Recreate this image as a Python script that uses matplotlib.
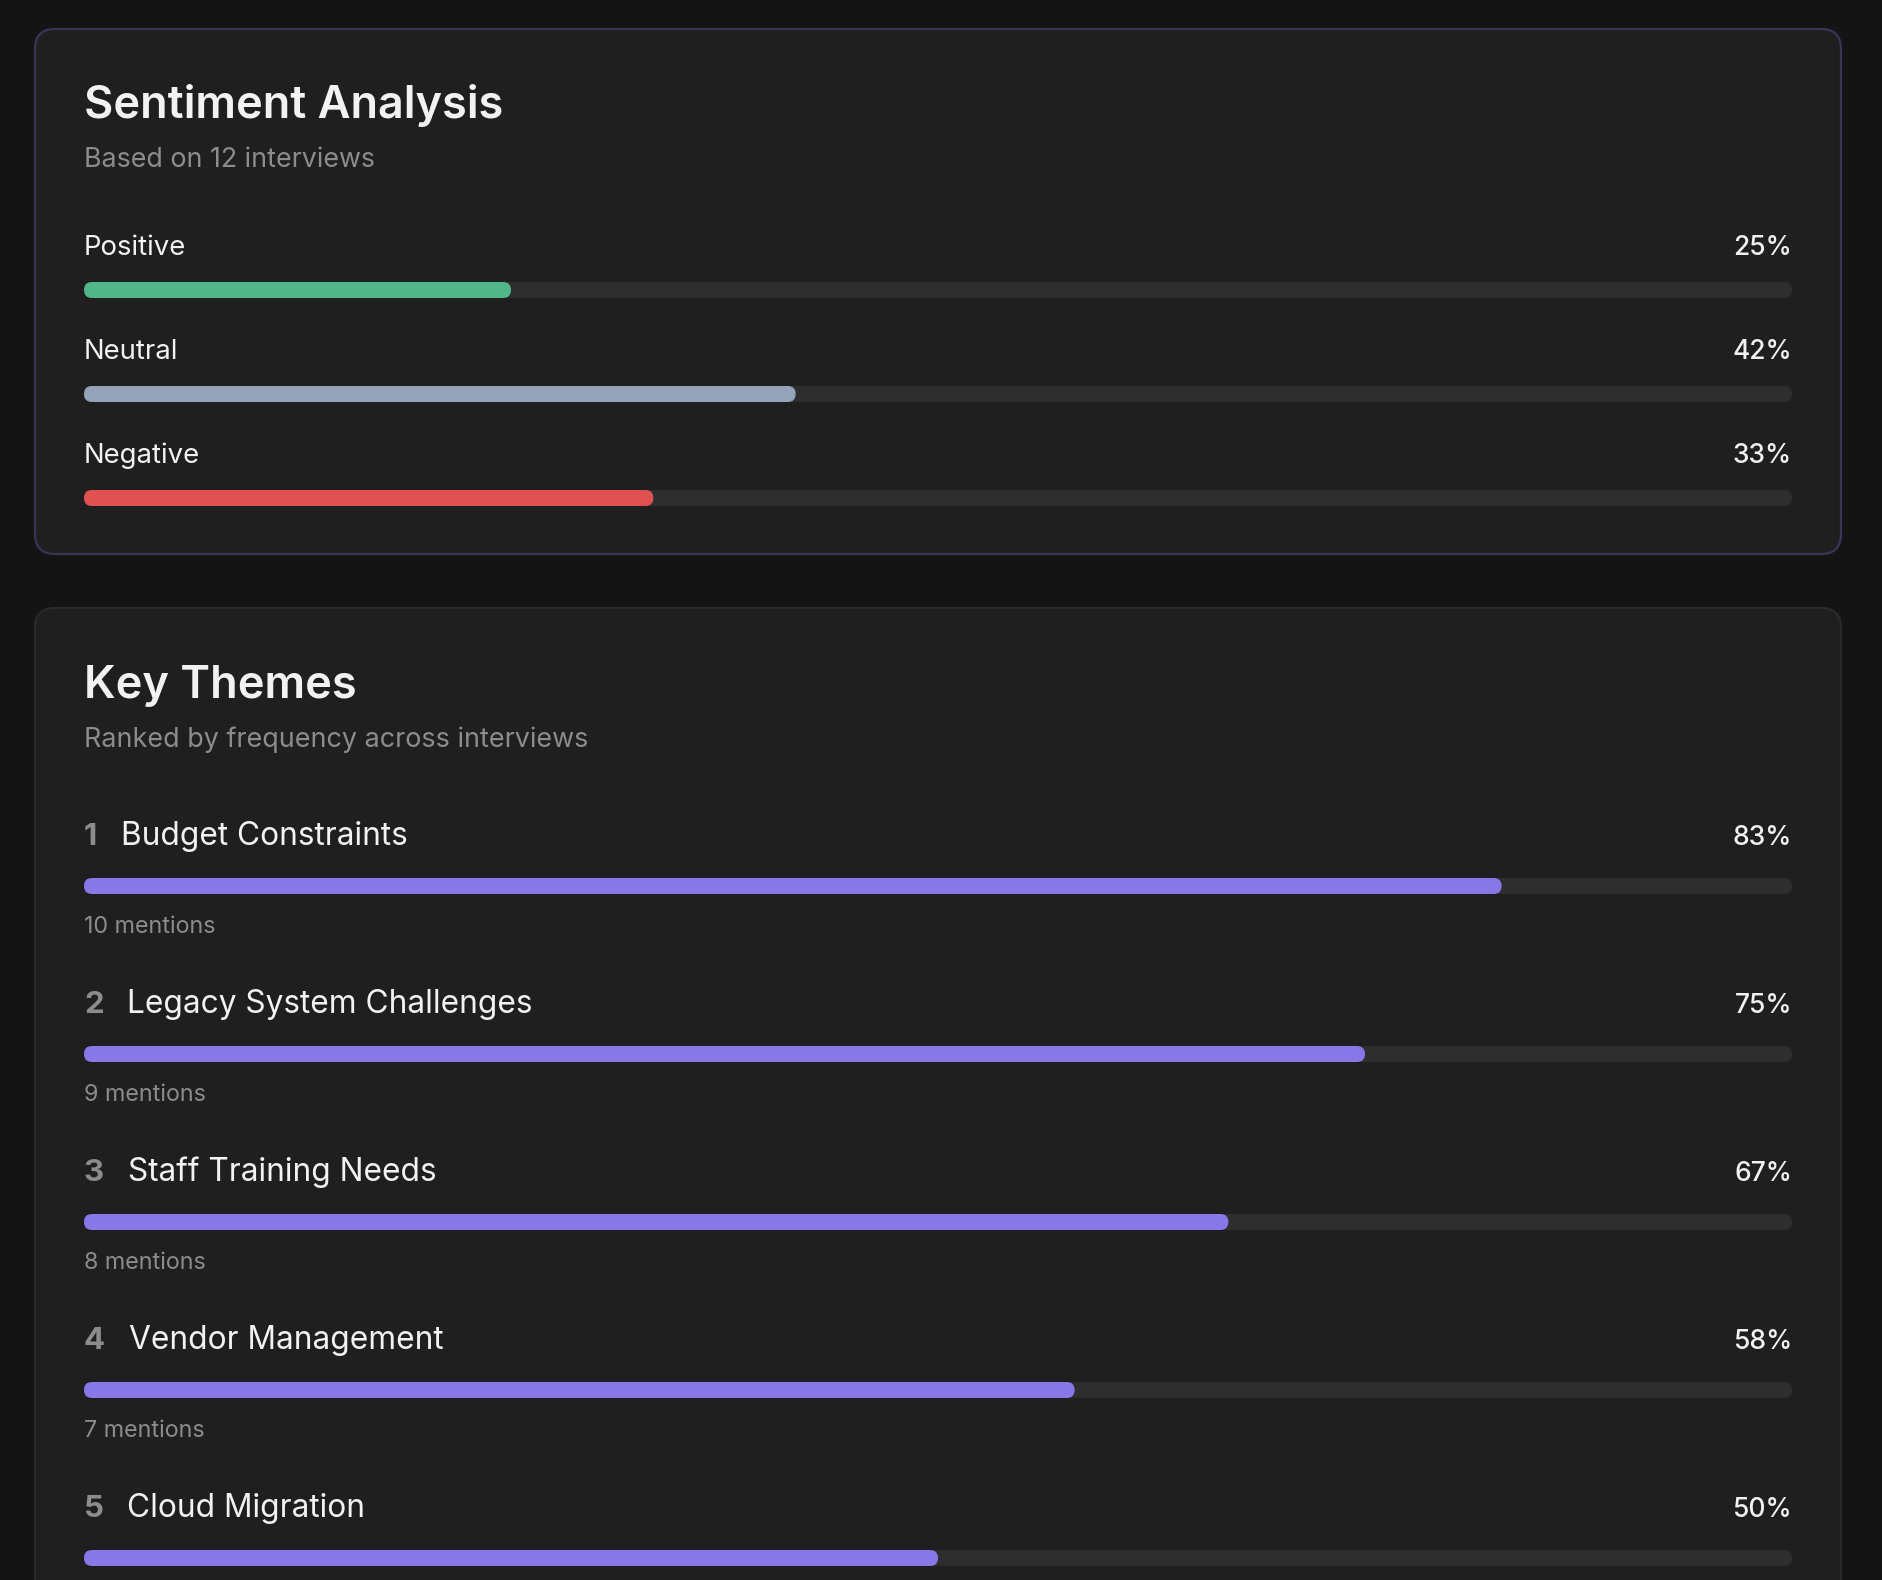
import matplotlib
matplotlib.use('Agg')
import matplotlib.pyplot as plt
from matplotlib.patches import FancyBboxPatch

# ---------------- data ----------------
interviews_total = 12
sentiment_title = 'Sentiment Analysis'
sentiment_subtitle = 'Based on 12 interviews'
sentiment_labels = ['Positive', 'Neutral', 'Negative']
sentiment_counts = [3, 5, 4]          # of 12 interviews -> 25%, 42%, 33%
sentiment_colors = ['#52b788', '#94a3b8', '#e05252']

themes_title = 'Key Themes'
themes_subtitle = 'Ranked by frequency across interviews'
theme_ranks = [1, 2, 3, 4, 5]
theme_labels = ['Budget Constraints', 'Legacy System Challenges', 'Staff Training Needs',
                'Vendor Management', 'Cloud Migration']
theme_values = [83, 75, 67, 58, 50]
theme_mentions = [10, 9, 8, 7, 6]
theme_color = '#8877e6'

# ---------------- style ----------------
FONT = ['Inter', 'DejaVu Sans']
plt.rcParams['font.family'] = FONT
PAGE_BG = '#141414'
CARD_BG = '#1f1f1f'
TRACK = '#2e2e2e'
WHITE = '#f2f2f2'
GREY = '#8c8c8c'

W, H = 1882, 1580
fig = plt.figure(figsize=(W / 100, H / 100), dpi=100)
fig.patch.set_facecolor(PAGE_BG)

bg = fig.add_axes([0, 0, 1, 1])
bg.set_xlim(0, W)
bg.set_ylim(H, 0)
bg.axis('off')

# cards
bg.add_patch(FancyBboxPatch((35, 29), 1806, 525, boxstyle='round,pad=0,rounding_size=20',
                            fc=CARD_BG, ec='#3b3459', lw=1.6))
bg.add_patch(FancyBboxPatch((35, 608), 1806, 1100, boxstyle='round,pad=0,rounding_size=20',
                            fc=CARD_BG, ec='#2a2a2a', lw=1.6))

# bar axes: x in percent, y in pixels
TX0, TX1 = 84, 1792
bax = fig.add_axes([TX0 / W, 0, (TX1 - TX0) / W, 1])
bax.set_xlim(0, 100)
bax.set_ylim(H, 0)
bax.axis('off')
bax.patch.set_alpha(0)

BAR_H = 16
aspect = (TX1 - TX0) / 100.0
rad = (BAR_H / 2) / aspect


def rbar(yc, v, color, z):
    bax.add_patch(FancyBboxPatch((0, yc - BAR_H / 2), v, BAR_H,
                                 boxstyle=f'round,pad=0,rounding_size={rad}',
                                 mutation_aspect=aspect, fc=color, ec='none', zorder=z))


# ---------------- Sentiment card ----------------
bg.text(84, 118, sentiment_title, fontsize=32.5, fontweight='semibold', color=WHITE, va='baseline')
bg.text(84, 167, sentiment_subtitle, fontsize=19.3, color=GREY, va='baseline')
for i, (lab, cnt, col) in enumerate(zip(sentiment_labels, sentiment_counts, sentiment_colors)):
    pct = 100.0 * cnt / interviews_total
    base = 255 + i * 104
    yc = 290 + i * 104
    bg.text(84, base, lab, fontsize=19.8, color=WHITE, va='baseline')
    bg.text(TX1, base, f'{round(pct)}%', fontsize=19, color=WHITE, va='baseline', ha='right',
            fontweight='medium')
    rbar(yc, 100, TRACK, 2)
    rbar(yc, pct, col, 3)

# ---------------- Themes card ----------------
bg.text(84, 698, themes_title, fontsize=32.5, fontweight='semibold', color=WHITE, va='baseline')
bg.text(84, 747, themes_subtitle, fontsize=19.4, color=GREY, va='baseline')
for i, (rk, lab, val, mn) in enumerate(zip(theme_ranks, theme_labels, theme_values, theme_mentions)):
    base = 845 + i * 168
    yc = 886 + i * 168
    mb = 933 + i * 168
    t = bg.text(84, base, str(rk), fontsize=22.5, fontweight='bold', color=GREY, va='baseline')
    bg.annotate(lab, xy=(1, base), xycoords=(t, 'data'), xytext=(17, 0),
                textcoords='offset points', fontsize=22.8, color=WHITE, va='baseline')
    bg.text(TX1, base, f'{val}%', fontsize=19, color=WHITE, va='baseline', ha='right',
            fontweight='medium')
    rbar(yc, 100, TRACK, 2)
    rbar(yc, val, theme_color, 3)
    if mb < H:
        bg.text(84, mb, f'{mn} mentions', fontsize=16.8, color=GREY, va='baseline')

fig.savefig('out.png', dpi=100, facecolor=PAGE_BG)
